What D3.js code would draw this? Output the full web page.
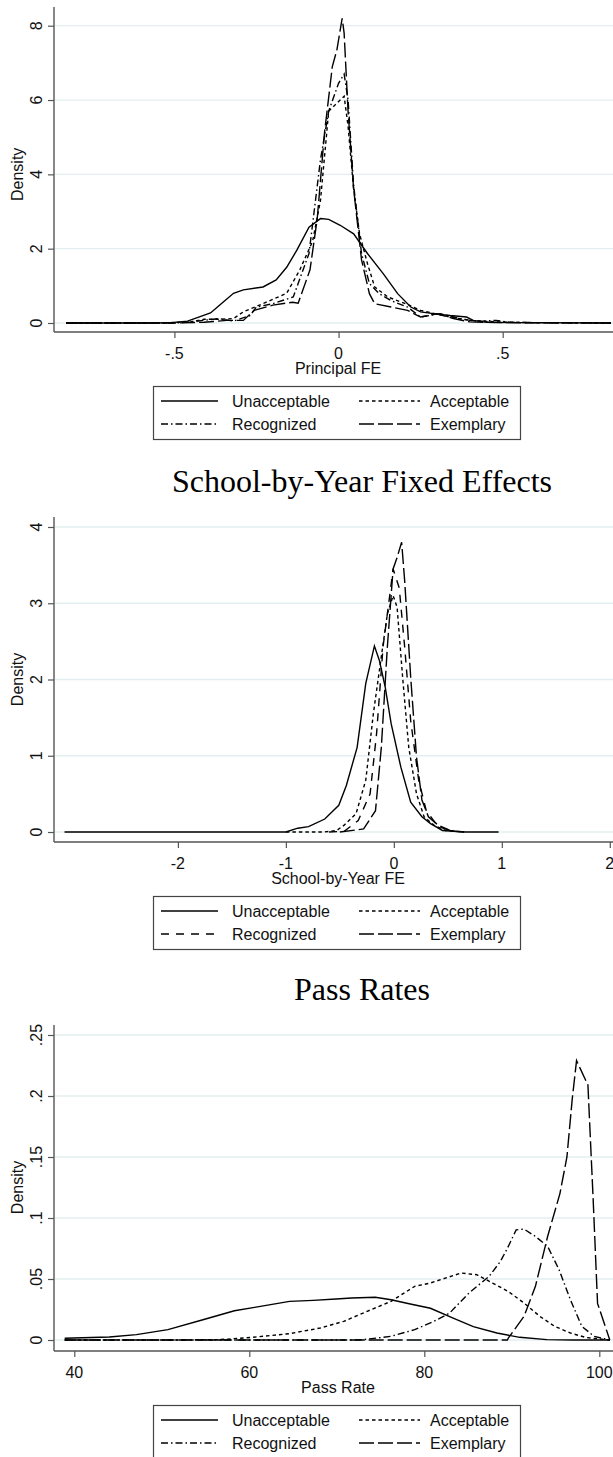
<!DOCTYPE html>
<html>
<head>
<meta charset="utf-8">
<script src="https://cdn.jsdelivr.net/npm/d3@7"></script>
<style>
  body { margin: 0; background: #fff; }
  svg { display: block; }
  .tick-label, .axis-title, .legend-text { font-family: "Liberation Sans", Arial, sans-serif; font-size: 16px; fill: #111; }
  .panel-title { font-family: "Liberation Serif", "Times New Roman", serif; font-size: 32px; fill: #000; }
</style>
</head>
<body>
<div id="chart"></div>
<script>
// ---- data ----
const categories = ["Unacceptable", "Acceptable", "Recognized", "Exemplary"];
const panelTitles = [null, "School-by-Year Fixed Effects", "Pass Rates"];
const xTitles = ["Principal FE", "School-by-Year FE", "Pass Rate"];

const principalXTicks = [-0.5, 0, 0.5];
const principalXLabels = ["-.5", "0", ".5"];
const principalYTicks = [0, 2, 4, 6, 8];
const principalYLabels = ["0", "2", "4", "6", "8"];

const schoolXTicks = [-2, -1, 0, 1, 2];
const schoolXLabels = ["-2", "-1", "0", "1", "2"];
const schoolYTicks = [0, 1, 2, 3, 4];
const schoolYLabels = ["0", "1", "2", "3", "4"];

const passXTicks = [40, 60, 80, 100];
const passXLabels = ["40", "60", "80", "100"];
const passYTicks = [0, 0.05, 0.1, 0.15, 0.2, 0.25];
const passYLabels = ["0", ".05", ".1", ".15", ".2", ".25"];

// principal FE densities [x, density]
const principalUnacceptable = [[-0.83,0],[-0.6,0],[-0.51,0.01],[-0.46,0.05],[-0.39,0.27],[-0.36,0.5],[-0.32,0.8],[-0.29,0.89],[-0.23,0.97],[-0.19,1.16],[-0.158,1.5],[-0.127,1.96],[-0.09,2.58],[-0.055,2.81],[-0.03,2.79],[0.005,2.63],[0.046,2.4],[0.088,1.87],[0.136,1.33],[0.18,0.79],[0.22,0.43],[0.25,0.3],[0.30,0.24],[0.34,0.2],[0.39,0.16],[0.41,0.07],[0.45,0.02],[0.55,0.01],[0.83,0]];
const principalAcceptable = [[-0.83,0],[-0.55,0],[-0.45,0.03],[-0.41,0.1],[-0.36,0.1],[-0.32,0.12],[-0.29,0.3],[-0.22,0.56],[-0.158,0.8],[-0.118,1.43],[-0.079,2.2],[-0.055,3.3],[-0.03,5.7],[0.005,6.0],[0.017,6.1],[0.029,5.3],[0.046,3.6],[0.064,2.4],[0.088,1.6],[0.11,0.97],[0.15,0.7],[0.21,0.5],[0.25,0.34],[0.34,0.16],[0.40,0.07],[0.48,0.03],[0.6,0.01],[0.83,0]];
const principalRecognized = [[-0.83,0],[-0.5,0],[-0.45,0.03],[-0.364,0.12],[-0.32,0.05],[-0.27,0.2],[-0.25,0.43],[-0.2,0.52],[-0.138,0.7],[-0.09,1.87],[-0.055,4.4],[-0.03,5.7],[0.0,6.45],[0.017,6.7],[0.029,6.0],[0.046,3.7],[0.07,1.87],[0.094,1.06],[0.124,0.79],[0.16,0.6],[0.21,0.43],[0.25,0.16],[0.31,0.25],[0.37,0.12],[0.42,0.04],[0.48,0.07],[0.52,0.02],[0.6,0.01],[0.83,0]];
const principalExemplary = [[-0.83,0],[-0.5,0],[-0.41,0.02],[-0.34,0.07],[-0.29,0.07],[-0.257,0.34],[-0.2,0.48],[-0.14,0.56],[-0.123,0.53],[-0.087,1.43],[-0.065,2.8],[-0.043,5.1],[-0.019,6.9],[-0.005,7.35],[0.011,8.2],[0.017,7.8],[0.029,5.7],[0.046,3.6],[0.07,1.7],[0.094,0.79],[0.11,0.52],[0.16,0.43],[0.21,0.34],[0.25,0.16],[0.3,0.25],[0.35,0.12],[0.4,0.03],[0.5,0.01],[0.83,0]];

// school-by-year FE densities
const schoolUnacceptable = [[-3.05,0],[-1.0,0],[-0.89,0.05],[-0.79,0.07],[-0.64,0.17],[-0.51,0.35],[-0.44,0.61],[-0.34,1.11],[-0.26,1.95],[-0.18,2.44],[-0.134,2.25],[-0.08,1.9],[-0.025,1.42],[0.065,0.85],[0.156,0.39],[0.26,0.2],[0.34,0.11],[0.45,0.02],[0.66,0],[0.97,0]];
const schoolAcceptable = [[-1.0,0],[-0.65,0],[-0.53,0.02],[-0.46,0.09],[-0.35,0.24],[-0.26,0.68],[-0.19,1.55],[-0.116,2.3],[-0.06,2.86],[-0.007,3.1],[0.03,2.95],[0.083,2.0],[0.138,1.11],[0.21,0.5],[0.28,0.2],[0.37,0.09],[0.48,0.02],[0.65,0]];
const schoolRecognized = [[-0.6,0],[-0.46,0.01],[-0.33,0.15],[-0.22,0.5],[-0.16,1.29],[-0.1,2.43],[-0.04,3.08],[-0.007,3.45],[0.05,3.2],[0.1,2.43],[0.156,1.46],[0.23,0.68],[0.3,0.28],[0.41,0.07],[0.55,0.01],[0.65,0]];
const schoolExemplary = [[-0.5,0],[-0.28,0.04],[-0.17,0.28],[-0.116,1.11],[-0.06,2.43],[-0.007,3.45],[0.03,3.6],[0.072,3.8],[0.1,3.3],[0.156,2.03],[0.21,0.98],[0.26,0.42],[0.32,0.2],[0.41,0.09],[0.52,0.02],[0.65,0]];

// pass rate densities
const passUnacceptable = [[38.9,0.0014],[44,0.0025],[47.1,0.0044],[50.7,0.0085],[54.7,0.0166],[58.3,0.024],[60.6,0.0267],[64.6,0.0317],[67.3,0.0325],[69.9,0.0336],[71.7,0.0344],[74.4,0.035],[76.2,0.033],[78.4,0.0295],[80.7,0.026],[83.3,0.018],[85.6,0.011],[88.3,0.0057],[90.9,0.0022],[94,0.0003],[97,0],[101.2,0]];
const passAcceptable = [[38.9,0],[52,0],[56.5,0.0003],[60.1,0.002],[64.6,0.0052],[68.1,0.0098],[70.8,0.0153],[73.9,0.0248],[76.2,0.0317],[78.9,0.044],[80.7,0.0467],[84.2,0.0549],[86,0.0535],[87.8,0.0467],[89.6,0.0398],[91.4,0.0303],[93.2,0.0194],[94.9,0.0112],[96.7,0.0057],[98.5,0.002],[101.2,0]];
const passRecognized = [[38.9,0],[72,0],[73,0.0003],[76.2,0.003],[78.9,0.0085],[81.1,0.0153],[82.9,0.0221],[85.1,0.0385],[87.4,0.0521],[88.7,0.0644],[89.6,0.0767],[90.5,0.0903],[91.4,0.0909],[92.7,0.0849],[94.1,0.0767],[95.4,0.0576],[96.7,0.033],[98,0.0112],[99.4,0.003],[101.2,0]];
const passExemplary = [[38.9,0],[89.5,0],[89.6,0.0016],[91.4,0.0194],[92.7,0.044],[94.1,0.085],[95.5,0.12],[96.3,0.15],[96.9,0.197],[97.4,0.229],[98.7,0.209],[99.3,0.115],[99.8,0.03],[101.2,0]];

// ---- layout ----
const width = 613, height = 1457;
const axisX = 54;

const dashSolid = null;
const dashShort = "3.5,3";
const dashDot = "7,3,1.5,3";
const dashPlain = "8,7";
const dashLong = "15,4";

const panels = [
    {
        title: panelTitles[0], xTitle: xTitles[0],
        xTicks: principalXTicks, xLabels: principalXLabels, xRef: [-0.5, 0.5], xPx: [174.4, 502.7],
        yTicks: principalYTicks, yLabels: principalYLabels, yRef: [0, 8], yPx: [323, 25.7],
        axisTop: 7, axisY: 332,
        series: [principalUnacceptable, principalAcceptable, principalRecognized, principalExemplary],
        dashes: [dashSolid, dashShort, dashDot, dashLong]
    },
    {
        title: panelTitles[1], xTitle: xTitles[1],
        xTicks: schoolXTicks, xLabels: schoolXLabels, xRef: [-2, 2], xPx: [177.9, 609.8],
        yTicks: schoolYTicks, yLabels: schoolYLabels, yRef: [0, 4], yPx: [832, 527],
        axisTop: 517, axisY: 842, titleY: 492,
        series: [schoolUnacceptable, schoolAcceptable, schoolRecognized, schoolExemplary],
        dashes: [dashSolid, dashShort, dashPlain, dashLong]
    },
    {
        title: panelTitles[2], xTitle: xTitles[2],
        xTicks: passXTicks, xLabels: passXLabels, xRef: [40, 100], xPx: [74.3, 599.3],
        yTicks: passYTicks, yLabels: passYLabels, yRef: [0, 0.25], yPx: [1340, 1035],
        axisTop: 1025, axisY: 1351, titleY: 1000,
        series: [passUnacceptable, passAcceptable, passRecognized, passExemplary],
        dashes: [dashSolid, dashShort, dashDot, dashLong]
    }
];

const svg = d3.select('#chart').append('svg')
    .attr('width', width)
    .attr('height', height);

svg.append('rect').attr('width', width).attr('height', height).attr('fill', '#fff');

panels.forEach(p => drawPanel(p));

function drawPanel(p) {
    const x = d3.scaleLinear().domain(p.xRef).range(p.xPx);
    const y = d3.scaleLinear().domain(p.yRef).range(p.yPx);
    const g = svg.append('g');

    if (p.title) {
        g.append('text')
            .attr('class', 'panel-title')
            .attr('x', 362)
            .attr('y', p.titleY)
            .attr('text-anchor', 'middle')
            .text(p.title);
    }

    // grid lines
    g.append('g').selectAll('line')
        .data(p.yTicks)
        .join('line')
        .attr('x1', axisX + 1).attr('x2', width)
        .attr('y1', d => y(d)).attr('y2', d => y(d))
        .attr('stroke', '#e4eef0')
        .attr('stroke-width', 1.3);

    // y axis
    const yAxis = d3.axisLeft(y).tickValues(p.yTicks).tickSize(6).tickFormat('');
    g.append('g')
        .attr('transform', `translate(${axisX},0)`)
        .call(yAxis)
        .call(s => s.select('.domain').remove())
        .call(s => s.selectAll('line').attr('stroke', '#555').attr('stroke-width', 1.2));
    g.append('line')
        .attr('x1', axisX).attr('x2', axisX)
        .attr('y1', p.axisTop).attr('y2', p.axisY)
        .attr('stroke', '#555').attr('stroke-width', 1.4);

    g.append('g').selectAll('text')
        .data(p.yTicks)
        .join('text')
        .attr('class', 'tick-label')
        .attr('text-anchor', 'middle')
        .attr('transform', (d) => `translate(42,${y(d)}) rotate(-90)`)
        .text((d, i) => p.yLabels[i]);

    g.append('text')
        .attr('class', 'axis-title')
        .attr('text-anchor', 'middle')
        .attr('transform', `translate(23,${(p.yPx[0] + p.yPx[1]) / 2}) rotate(-90)`)
        .text('Density');

    // x axis
    const xAxis = d3.axisBottom(x).tickValues(p.xTicks).tickSize(6).tickFormat('');
    g.append('g')
        .attr('transform', `translate(0,${p.axisY})`)
        .call(xAxis)
        .call(s => s.select('.domain').remove())
        .call(s => s.selectAll('line').attr('stroke', '#555').attr('stroke-width', 1.2));
    g.append('line')
        .attr('x1', axisX).attr('x2', width)
        .attr('y1', p.axisY).attr('y2', p.axisY)
        .attr('stroke', '#555').attr('stroke-width', 1.4);

    g.append('g').selectAll('text')
        .data(p.xTicks)
        .join('text')
        .attr('class', 'tick-label')
        .attr('text-anchor', 'middle')
        .attr('x', d => x(d))
        .attr('y', p.axisY + 27)
        .text((d, i) => p.xLabels[i]);

    g.append('text')
        .attr('class', 'axis-title')
        .attr('text-anchor', 'middle')
        .attr('x', 338)
        .attr('y', p.axisY + 42)
        .text(p.xTitle);

    // density curves
    const line = d3.line().x(d => x(d[0])).y(d => y(d[1]));
    g.append('g').selectAll('path')
        .data(p.series)
        .join('path')
        .attr('d', line)
        .attr('fill', 'none')
        .attr('stroke', '#000')
        .attr('stroke-width', 1.4)
        .attr('stroke-dasharray', (d, i) => p.dashes[i]);

    // legend
    const top = p.axisY + 54;
    const lg = g.append('g');
    lg.append('rect')
        .attr('x', 153.5).attr('y', top + 0.5)
        .attr('width', 367).attr('height', 53)
        .attr('fill', '#fff')
        .attr('stroke', '#444').attr('stroke-width', 1.2);
    const cols = [{ x1: 161, x2: 218, tx: 232 }, { x1: 359, x2: 420, tx: 430 }];
    categories.forEach((c, i) => {
        const col = cols[i % 2];
        const ry = top + 15 + Math.floor(i / 2) * 23;
        lg.append('line')
            .attr('x1', col.x1).attr('x2', col.x2)
            .attr('y1', ry).attr('y2', ry)
            .attr('stroke', '#000').attr('stroke-width', 1.4)
            .attr('stroke-dasharray', p.dashes[i]);
        lg.append('text')
            .attr('class', 'legend-text')
            .attr('x', col.tx).attr('y', ry + 5.5)
            .text(c);
    });
}
</script>
</body>
</html>
